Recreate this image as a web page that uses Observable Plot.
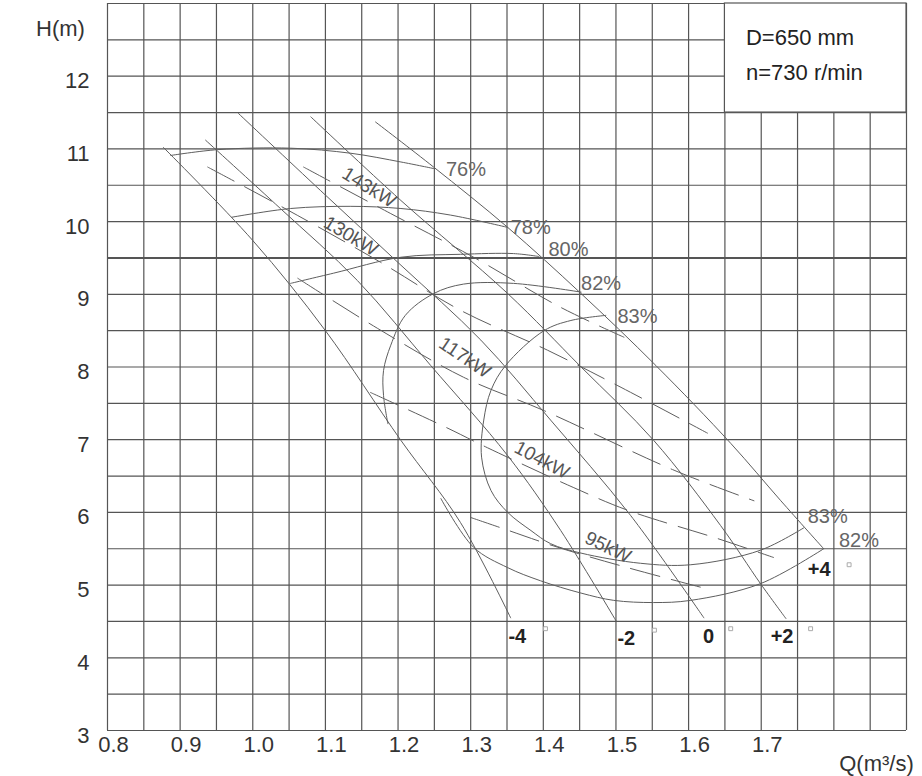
<!DOCTYPE html>
<html><head><meta charset="utf-8">
<script src="https://cdn.jsdelivr.net/npm/d3@7"></script>
<script src="https://cdn.jsdelivr.net/npm/@observablehq/plot@0.6"></script>
<style>body{margin:0;background:#fff;} #chart{width:922px;height:776px;}</style>
</head><body><div id="chart"></div>
<script>
// ---- axis ticks ----
const xTicks = [0.8, 0.9, 1.0, 1.1, 1.2, 1.3, 1.4, 1.5, 1.6, 1.7];
const yTicks = [3, 4, 5, 6, 7, 8, 9, 10, 11, 12];
const gridQ = d3.range(0, 23).map(i => +(0.8 + 0.05 * i).toFixed(2));
const gridH = d3.range(0, 21).map(i => 3 + 0.5 * i);

// ---- Q-H curves per blade angle [Q, H] ----
const qhM4 = [[0.877, 11.02], [1.0, 9.74], [1.1, 8.5], [1.204, 6.99], [1.286, 5.86], [1.355, 4.55]];
const qhM2 = [[0.935, 11.12], [1.038, 10.18], [1.144, 9.19], [1.245, 8.02], [1.351, 6.78], [1.424, 5.75], [1.5, 4.51]];
const qh0  = [[0.98, 11.49], [1.093, 10.43], [1.204, 9.4], [1.314, 8.37], [1.41, 7.27], [1.52, 5.96], [1.621, 4.55]];
const qhP2 = [[1.08, 11.44], [1.204, 10.29], [1.351, 9.01], [1.452, 8.0], [1.552, 6.99], [1.644, 5.82], [1.699, 5.02], [1.734, 4.54]];
const qhP4 = [[1.169, 11.37], [1.249, 10.75], [1.351, 9.92], [1.452, 9.01], [1.555, 8.02], [1.658, 6.95], [1.727, 6.16], [1.786, 5.5]];
const angleNames = ["-4", "-2", "0", "+2", "+4"];
const angleLabelQ = [1.352, 1.502, 1.62, 1.713, 1.764];
const angleLabelH = [4.29, 4.27, 4.29, 4.29, 5.22];
const degreeQ = [1.403, 1.553, 1.658, 1.768, 1.821];
const degreeH = [4.40, 4.38, 4.40, 4.40, 5.28];

// ---- efficiency contours ----
const eff76 = [[0.887, 10.91], [0.952, 10.99], [1.052, 11.01], [1.135, 10.94], [1.204, 10.82], [1.249, 10.73]];
const eff78 = [[0.971, 10.06], [1.052, 10.18], [1.135, 10.21], [1.204, 10.18], [1.272, 10.09], [1.351, 9.92]];
const eff80 = [[1.052, 9.15], [1.111, 9.29], [1.204, 9.51], [1.286, 9.55], [1.359, 9.56], [1.394, 9.52]];
const eff82Upper = [[1.452, 9.03], [1.359, 9.15], [1.29, 9.14], [1.249, 9.01], [1.21, 8.71], [1.19, 8.3], [1.18, 7.95], [1.18, 7.61], [1.186, 7.22]];
const eff82Lower = [[1.259, 6.19], [1.304, 5.52], [1.351, 5.24], [1.396, 5.06], [1.452, 4.89], [1.497, 4.79], [1.552, 4.76], [1.603, 4.79], [1.699, 5.02], [1.786, 5.5]];
const eff83 = [[1.486, 8.71], [1.438, 8.64], [1.401, 8.5], [1.348, 8.02], [1.328, 7.68], [1.318, 7.27], [1.315, 6.76], [1.328, 6.3], [1.351, 6.0], [1.383, 5.75], [1.41, 5.57], [1.452, 5.44], [1.534, 5.3], [1.603, 5.28], [1.699, 5.48], [1.759, 5.79]];
const effNames = ["76%", "78%", "80%", "82%", "83%", "83%", "82%"];
const effLabelQ = [1.266, 1.355, 1.407, 1.452, 1.502, 1.764, 1.807];
const effLabelH = [10.71, 9.92, 9.62, 9.15, 8.70, 5.94, 5.61];

// ---- power lines (dashed) ----
const pow143 = [[1.07, 10.75], [1.19, 10.11], [1.304, 9.51], [1.424, 8.82], [1.511, 8.41]];
const pow130 = [[0.938, 10.75], [1.048, 10.16], [1.176, 9.44], [1.286, 8.78], [1.406, 8.23], [1.507, 7.72], [1.626, 7.09]];
const pow117 = [[1.062, 9.22], [1.172, 8.53], [1.29, 7.86], [1.401, 7.4], [1.58, 6.58], [1.69, 6.16]];
const pow104 = [[1.162, 7.65], [1.266, 7.17], [1.323, 6.89], [1.442, 6.34], [1.516, 6.03], [1.64, 5.64], [1.717, 5.38]];
const pow95  = [[1.3, 5.93], [1.341, 5.79], [1.42, 5.52], [1.516, 5.24], [1.617, 4.97]];
const powNames = ["143kW", "130kW", "117kW", "104kW", "95kW"];
const powLabelQ = [1.16, 1.135, 1.292, 1.398, 1.489];
const powLabelH = [10.47, 9.80, 8.13, 6.72, 5.52];
const powLabelAngle = [32, 31, 34, 28, 26];

// ---- info box ----
const infoLines = ["D=650 mm", "n=730 r/min"];
const infoQ = [1.679, 1.679];
const infoH = [12.52, 12.04];
const infoBoxQ = [1.65, 1.9];
const infoBoxH = [11.5, 13];

const toPts = arr => arr.map(([q, h]) => ({q, h}));
const curveStroke = "#5e5e5e";
const solidCurves = [qhM4, qhM2, qh0, qhP2, qhP4, eff76, eff78, eff80, eff82Upper, eff82Lower, eff83];
const dashedCurves = [pow143, pow130, pow117, pow104, pow95];
const font = "Liberation Sans, Arial, Helvetica, sans-serif";

const angleTable = angleNames.map((t, i) => ({t, q: angleLabelQ[i], h: angleLabelH[i]}));
const degTable = degreeQ.map((q, i) => ({q, h: degreeH[i]}));
const effTable = effNames.map((t, i) => ({t, q: effLabelQ[i], h: effLabelH[i]}));
const powTable = powNames.map((t, i) => ({t, q: powLabelQ[i], h: powLabelH[i], a: powLabelAngle[i]}));
const infoTable = infoLines.map((t, i) => ({t, q: infoQ[i], h: infoH[i]}));

const chart = Plot.plot({
  width: 922, height: 776,
  marginLeft: 107, marginRight: 16, marginTop: 3, marginBottom: 46,
  x: {domain: [0.8, 1.9]},
  y: {domain: [3, 13]},
  style: {fontFamily: font, background: "#fff", color: "#222"},
  marks: [
    Plot.ruleX(gridQ, {y1: 3, y2: 13, stroke: "#555", strokeWidth: 1.2}),
    Plot.ruleY(gridH, {x1: 0.8, x2: 1.9, stroke: "#555", strokeWidth: d => d === 9.5 ? 1.9 : 1.2}),
    Plot.rect([0], {x1: infoBoxQ[0], x2: infoBoxQ[1], y1: infoBoxH[0], y2: infoBoxH[1], fill: "#fff", stroke: "#555", strokeWidth: 1.2}),
    ...solidCurves.map(c => Plot.line(toPts(c), {x: "q", y: "h", curve: "catmull-rom", stroke: curveStroke, strokeWidth: 1})),
    ...dashedCurves.map(c => Plot.line(toPts(c), {x: "q", y: "h", curve: "catmull-rom", stroke: curveStroke, strokeWidth: 1, strokeDasharray: "30,12"})),
    Plot.text(effTable, {x: "q", y: "h", text: "t", textAnchor: "start", lineAnchor: "middle", fontSize: 20, fill: "#666"}),
    Plot.text(powTable, {x: "q", y: "h", text: "t", rotate: "a", textAnchor: "middle", lineAnchor: "middle", fontSize: 19, fill: "#555"}),
    Plot.text(angleTable, {x: "q", y: "h", text: "t", textAnchor: "start", lineAnchor: "middle", fontSize: 20, fontWeight: 700, fill: "#222"}),
    Plot.dot(degTable, {x: "q", y: "h", symbol: "square", r: 2.2, stroke: "#aaa", strokeWidth: 1, fill: "none"}),
    Plot.text(infoTable, {x: "q", y: "h", text: "t", textAnchor: "start", lineAnchor: "middle", fontSize: 22, fill: "#222"}),
    Plot.axisX(xTicks, {tickSize: 0, tickPadding: 6, dx: 6, fontSize: 22, fill: "#333", tickFormat: d => d.toFixed(1), label: null}),
    Plot.axisY(yTicks, {tickSize: 0, tickPadding: 18, dy: 5, fontSize: 22, fill: "#333", tickFormat: d => String(d), label: null}),
    Plot.text(["H(m)"], {frameAnchor: "top-left", dx: -47, dy: 25, textAnchor: "middle", lineAnchor: "middle", fontSize: 22, fill: "#333"}),
    Plot.text(["Q(m³/s)"], {frameAnchor: "bottom-right", dx: -30, dy: 33, textAnchor: "middle", lineAnchor: "middle", fontSize: 22, fill: "#333"})
  ]
});
document.getElementById("chart").appendChild(chart);
</script></body></html>
